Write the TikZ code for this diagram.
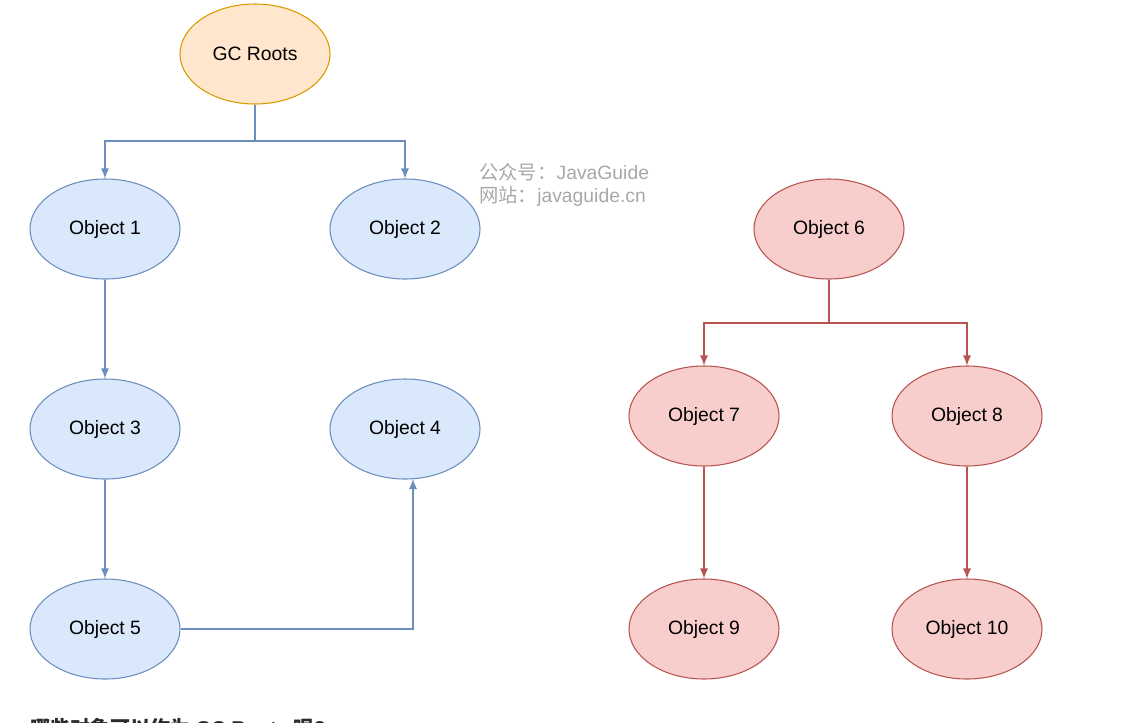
\documentclass[tikz,border=0pt]{standalone}
\usepackage{fontspec}
\setmainfont{Liberation Sans}
\newfontfamily\cjk{Noto Sans CJK SC}
\usetikzlibrary{shapes.geometric,arrows.meta}
\definecolor{bfill}{HTML}{DAE8FC}
\definecolor{bline}{HTML}{6C8EBF}
\definecolor{rfill}{HTML}{F8CECC}
\definecolor{rline}{HTML}{B85450}
\definecolor{ofill}{HTML}{FFE6CC}
\definecolor{oline}{HTML}{D79B00}
\definecolor{wmark}{HTML}{A8A8A8}
\definecolor{btext}{HTML}{2B2B2B}
\tikzset{
  obj/.style={ellipse, minimum width=112.5pt, minimum height=75pt, inner sep=0pt, line width=0.8pt, font=\fontsize{14.5}{17}\selectfont},
  bobj/.style={obj, draw=bline, fill=bfill},
  robj/.style={obj, draw=rline, fill=rfill},
  oobj/.style={obj, draw=oline, fill=ofill},
  barrow/.style={draw=bline, line width=0.8pt, -{Latex[length=7.5pt,width=6pt]}},
  rarrow/.style={draw=rline, line width=0.8pt, -{Latex[length=7.5pt,width=6pt]}},
  wm/.style={text=wmark, font=\fontsize{14.5}{17}\selectfont, anchor=west, inner sep=0pt}
}
\begin{document}
\begin{tikzpicture}[x=0.75pt,y=-0.75pt]
\useasboundingbox (0,0) rectangle (1139,722);
\node[oobj] (gc) at (255,54) {GC Roots};
\node[bobj] (o1) at (105,229) {Object 1};
\node[bobj] (o2) at (405,229) {Object 2};
\node[bobj] (o3) at (105,429) {Object 3};
\node[bobj] (o4) at (405,429) {Object 4};
\node[bobj] (o5) at (105,629) {Object 5};
\node[robj] (o6) at (829,229) {Object 6};
\node[robj] (o7) at (704,416) {Object 7};
\node[robj] (o8) at (967,416) {Object 8};
\node[robj] (o9) at (704,629) {Object 9};
\node[robj] (o10) at (967,629) {Object 10};
\coordinate (gcj) at (255,141);
\coordinate (o6j) at (829,323);
\draw[barrow] (gc.south) -- (gcj) -| (o1.north);
\draw[barrow] (gcj) -| (o2.north);
\draw[barrow] (o1) -- (o3);
\draw[barrow] (o3) -- (o5);
\coordinate (o4b) at (413,479);
\draw[barrow] (o5.east) -| (o4b);
\draw[rarrow] (o6.south) -- (o6j) -| (o7.north);
\draw[rarrow] (o6j) -| (o8.north);
\draw[rarrow] (o7) -- (o9);
\draw[rarrow] (o8) -- (o10);
\node[wm] (wm1) at (479,172) {{\cjk 公众号：}JavaGuide};
\node[wm] (wm2) at (479,196) {{\cjk 网站：}javaguide.cn};
\begin{scope}
\clip (0,0) rectangle (1139,722);
\node[anchor=base west, inner sep=0pt, text=btext, font=\fontsize{15}{18}\selectfont\bfseries] (q) at (30,735) {{\cjk\bfseries 哪些对象可以作为} GC Roots {\cjk\bfseries 呢}?};
\end{scope}
\end{tikzpicture}
\end{document}
